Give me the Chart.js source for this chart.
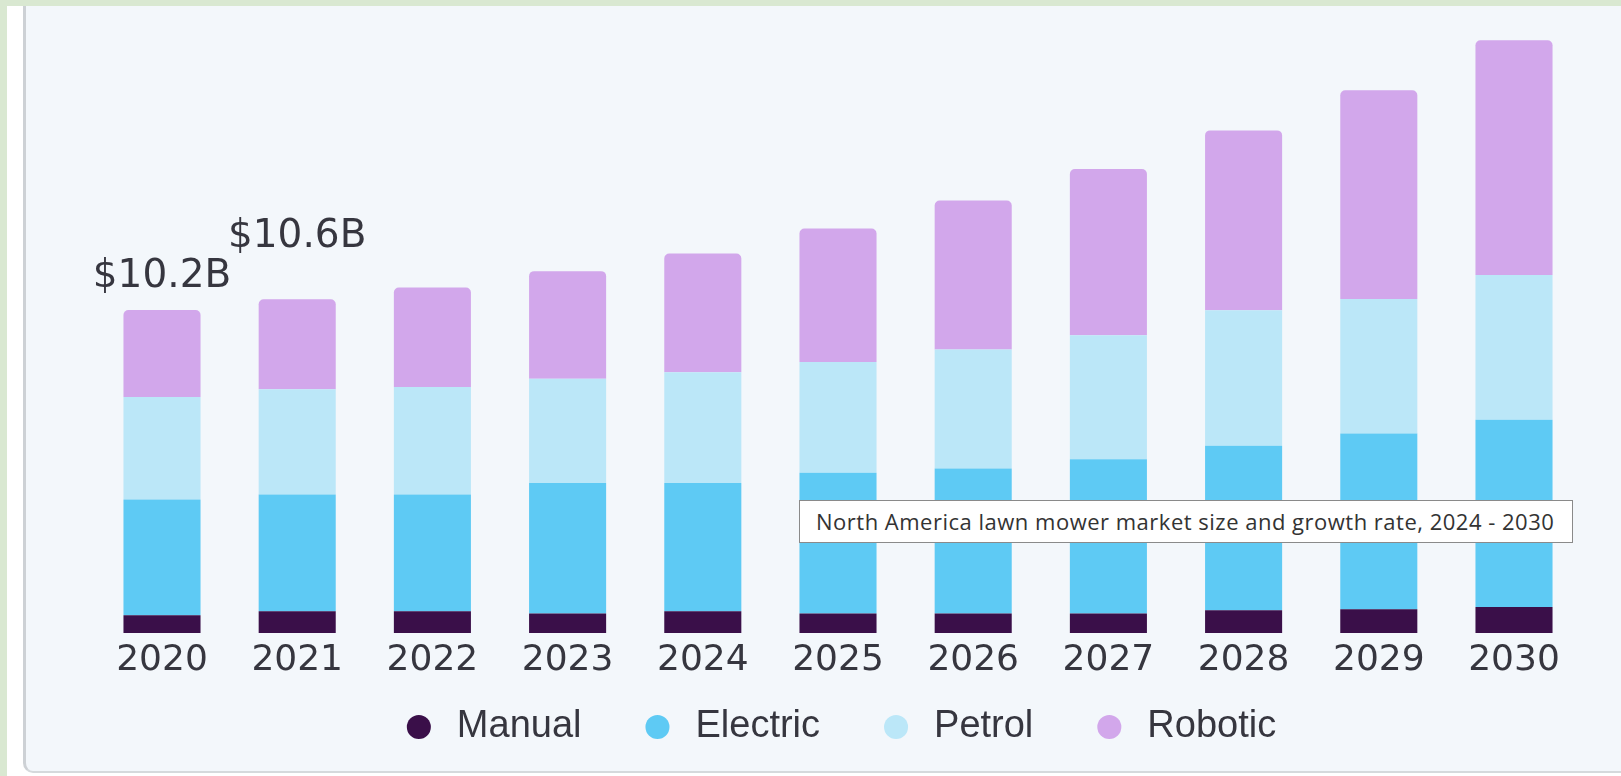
<!DOCTYPE html>
<html><head><meta charset="utf-8">
<script src="https://cdn.jsdelivr.net/npm/chart.js@4"></script>
<style>
html,body{margin:0;padding:0;width:1621px;height:776px;overflow:hidden;background:#d9e8d1;}
#strip{position:absolute;left:7px;top:6px;width:1614px;height:770px;background:#ffffff;}
#panel{position:absolute;left:23px;top:6px;width:1598px;height:767px;box-sizing:border-box;background:#f3f7fb;border-left:3px solid #cdd1d5;border-bottom:2px solid #d5d9dc;border-bottom-left-radius:10px;}
#wrap{position:absolute;left:0;top:0;width:1621px;height:776px;}
#note{position:absolute;left:799px;top:500px;width:774px;height:43px;box-sizing:border-box;background:#fff;border:1px solid #8a8a8a;font-family:'Open Sans',sans-serif;font-size:22px;letter-spacing:0.5px;color:#333;line-height:41px;padding-left:16px;white-space:nowrap;overflow:hidden;}
</style></head>
<body>
<div id="strip"></div>
<div id="panel"></div>
<div id="wrap"><canvas id="c"></canvas></div>
<div id="note">North America lawn mower market size and growth rate, 2024 - 2030</div>
<script>
const years = ['2020','2021','2022','2023','2024','2025','2026','2027','2028','2029','2030'];
const manual   = [0.56,0.69,0.69,0.62,0.69,0.62,0.62,0.62,0.72,0.75,0.82];
const electric = [3.66,3.69,3.69,4.12,4.05,4.45,4.58,4.87,5.20,5.56,5.92];
const petrol   = [3.24,3.33,3.40,3.30,3.50,3.50,3.76,3.92,4.28,4.25,4.58];
const robotic  = [2.75,2.84,3.14,3.40,3.76,4.22,4.71,5.26,5.69,6.60,7.42];
const totalLabels = ['$10.2B','$10.6B'];
const labelLift = [23, 52];

const textColor = '#36363f';

const totalsPlugin = {
  id: 'totals',
  afterLayout(chart) {
    // let the tick labels spill below the (compact) x axis box
    const x = chart.scales.x;
    x.bottom = x.top + 60;
  },
  afterDatasetsDraw(chart) {
    const {ctx, scales} = chart;
    ctx.save();
    ctx.font = '39px "DejaVu Sans"';
    ctx.fillStyle = textColor;
    ctx.textAlign = 'center';
    ctx.textBaseline = 'alphabetic';
    totalLabels.forEach((t, i) => {
      const total = manual[i] + electric[i] + petrol[i] + robotic[i];
      const x = scales.x.getPixelForValue(i);
      const y = scales.y.getPixelForValue(total) - labelLift[i];
      ctx.fillText(t, x, y);
    });
    ctx.restore();
  }
};

new Chart(document.getElementById('c'), {
  type: 'bar',
  data: {
    labels: years,
    datasets: [
      {label: 'Manual', data: manual, backgroundColor: '#3a0f49'},
      {label: 'Electric', data: electric, backgroundColor: '#5ecaf4'},
      {label: 'Petrol', data: petrol, backgroundColor: '#bbe7f8'},
      {label: 'Robotic', data: robotic, backgroundColor: '#d2a7eb',
       borderRadius: {topLeft: 5, topRight: 5, bottomLeft: 0, bottomRight: 0}, borderSkipped: 'bottom'}
    ]
  },
  options: {
    responsive: true,
    maintainAspectRatio: false,
    animation: false,
    layout: {padding: {left: 94.4, right: 39.4, top: 16.2, bottom: 20}},
    datasets: {bar: {barPercentage: 0.57, categoryPercentage: 1, borderWidth: 0}},
    scales: {
      x: {
        stacked: true,
        grid: {display: false, drawTicks: false},
        border: {display: false},
        ticks: {color: textColor, font: {family: 'DejaVu Sans', size: 36}, padding: 6, maxRotation: 0, autoSkip: false},
        afterFit(scale) { scale.height = 18; }
      },
      y: {
        stacked: true, display: false, min: 0, max: 19.5
      }
    },
    plugins: {
      tooltip: {enabled: false},
      legend: {
        position: 'bottom',
        labels: {
          usePointStyle: true, pointStyle: 'circle',
          boxWidth: 38, boxHeight: 17, padding: 57,
          color: textColor,
          font: {family: 'Liberation Sans', size: 38}
        }
      }
    }
  },
  plugins: [totalsPlugin]
});
</script>
</body></html>
